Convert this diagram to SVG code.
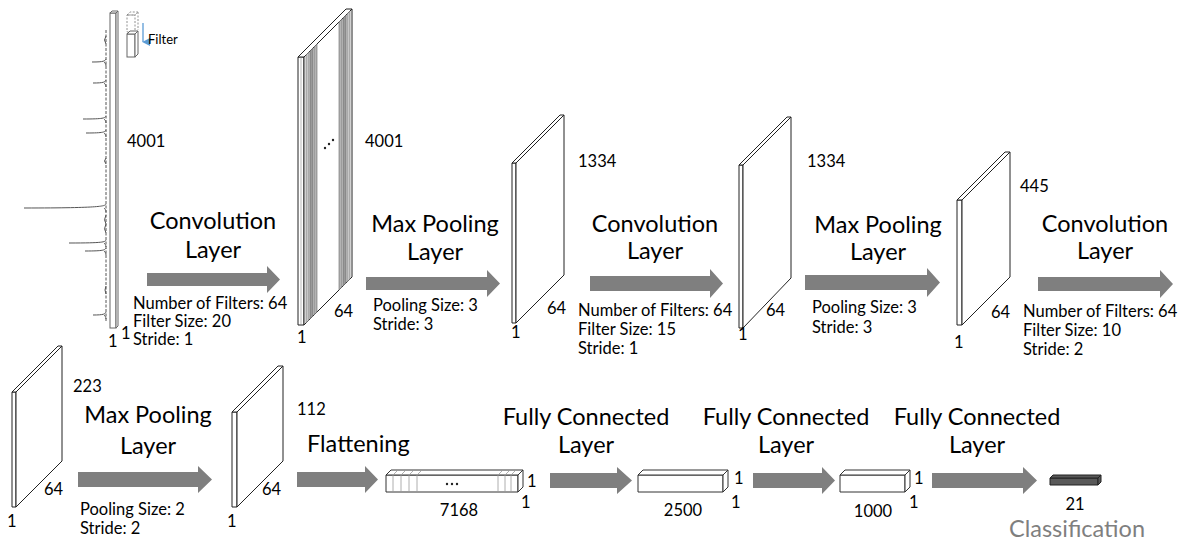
<svg xmlns="http://www.w3.org/2000/svg" width="1189" height="545" viewBox="0 0 1189 545">
  <style>
    text { font-family: Lato, "Liberation Sans", sans-serif; fill: #000; }
    .h { font-size: 23.5px; text-anchor: middle; }
    .p { font-size: 16.5px; }
    .d { font-size: 16.5px; }
    .dm { font-size: 16.5px; text-anchor: middle; }
    .cls { font-size: 23.5px; text-anchor: middle; fill: #7f7f7f; }
    .flow { fill: #7f7f7f; stroke: none; }
    .slab { fill: #fff; stroke: #222; stroke-width: 1; stroke-linejoin: round; }
    .box { fill: #fff; stroke: #333; stroke-width: 1; stroke-linejoin: round; }
    .dark { fill: #595959; stroke: #222; stroke-width: 1; stroke-linejoin: round; }
    .strip { stroke: #666; stroke-width: 0.6; }
    .tick { stroke: #999; stroke-width: 0.8; }
    .spec { fill: none; stroke: #555; stroke-width: 1; }
    .bar { fill: #fff; stroke: #666; stroke-width: 1; }
  </style>
  <defs>
    <marker id="blueHead" viewBox="0 0 10 10" refX="5" refY="9" markerWidth="8" markerHeight="8" markerUnits="userSpaceOnUse" orient="auto-start-reverse">
      <path d="M0,0 L10,0 L5,10 Z" fill="#5b9bd5"/>
    </marker>
  </defs>

  <!-- input spectrum with its 1 x 4001 column -->
  <g id="input">
    <path class="spec" stroke="#888" stroke-dasharray="3 1.5" d="M106,30 L106,322"/>
    <path class="spec" d="M106,36 q-3,4 0,8 M106,158 q-3,3 0,6 M106,215 q-3,5 0,9 q-3,5 0,9 M106,286 q-2,4 0,8"/>
    <path class="spec" d="M106,59 C105,61 104,62 92,62 M104,62 C105,63 106,64 106,66"/>
    <path class="spec" d="M106,80 C105,82 104,83 93,83 M104,83 C105,84 106,85 106,87"/>
    <path class="spec" d="M106,116 C105,118 104,119 83,119 M104,119 C105,120 106,121 106,123"/>
    <path class="spec" d="M106,130 C105,132 104,133 86,133 M104,133 C105,134 106,135 106,137"/>
    <path class="spec" d="M106,204 C105,206 104,208 24,208 M104,208 C105,209 106,210 106,212"/>
    <path class="spec" d="M106,240 C105,242 104,243 69,243 M104,243 C105,244 106,245 106,247"/>
    <path class="spec" d="M106,248 C105,250 104,251 85,251 M104,251 C105,252 106,253 106,255"/>
    <path class="spec" d="M106,312 C105,314 104,315 93,315 M104,315 C105,316 106,317 106,319"/>
    <rect class="bar" x="110" y="13" width="6" height="315"/>
    <polygon class="bar" points="110,13 112,11 118,11 116,13"/>
    <polygon class="bar" points="116,13 118,11 118,326 116,328"/>
    <text class="d" x="127" y="147">4001</text>
    <text class="d" x="108" y="347">1</text>
    <text class="d" x="121" y="339">1</text>
  </g>

  <!-- sliding filter -->
  <g id="filter">
    <rect x="127" y="15" width="8" height="17" fill="none" stroke="#777" stroke-width="0.8" stroke-dasharray="2 1.5"/>
    <polygon points="127,15 130,12 138,12 135,15" fill="none" stroke="#777" stroke-width="0.8" stroke-dasharray="2 1.5"/>
    <line x1="138" y1="12" x2="138" y2="30" stroke="#777" stroke-width="0.8" stroke-dasharray="2 1.5"/>
    <rect class="bar" x="127" y="34" width="8" height="23"/>
    <polygon class="bar" points="127,34 130,31 138,31 135,34"/>
    <polygon class="bar" points="135,34 138,31 138,54 135,57"/>
    <line x1="143" y1="23" x2="143" y2="42" stroke="#5b9bd5" stroke-width="1.3" marker-end="url(#blueHead)"/>
    <text x="148" y="44" font-size="13">Filter</text>
  </g>

  <!-- 64 stacked feature maps, 4001 long -->
  <g id="conv1-maps">
    <rect class="slab" x="298" y="57" width="6" height="268"/>
    <polygon class="slab" points="298,57 346,9 352,9 304,57"/>
    <polygon class="slab" points="304,57 352,9 352,277 304,325"/>
    <polygon class="strip" fill="#c8c8c8" points="306,55 309,52 309,320 306,323"/>
    <polygon class="strip" fill="#9a9a9a" points="310,51 313,48 313,316 310,319"/>
    <polygon class="strip" fill="#b4b4b4" points="314,47 317,44 317,312 314,315"/>
    <polygon class="strip" fill="#b4b4b4" points="339,22 342,19 342,287 339,290"/>
    <polygon class="strip" fill="#9a9a9a" points="343,18 346,15 346,283 343,286"/>
    <polygon class="strip" fill="#c8c8c8" points="347,14 350,11 350,279 347,282"/>
    <line x1="301" y1="57" x2="301" y2="325" stroke="#888" stroke-width="0.6"/>
    <circle cx="325" cy="148" r="1.2" fill="#222"/>
    <circle cx="329" cy="144" r="1.2" fill="#222"/>
    <circle cx="333" cy="140" r="1.2" fill="#222"/>
    <text class="d" x="365" y="147">4001</text>
    <text class="d" x="334" y="317">64</text>
    <text class="d" x="297" y="343">1</text>
  </g>

  <g id="pool1-maps">
    <rect class="slab" x="512" y="163" width="4" height="160"/>
    <polygon class="slab" points="512,163 560,115 564,115 516,163"/>
    <polygon class="slab" points="516,163 564,115 564,275 516,323"/>
    <text class="d" x="578" y="167">1334</text>
    <text class="d" x="547" y="314">64</text>
    <text class="d" x="511" y="338">1</text>
  </g>

  <g id="conv2-maps">
    <rect class="slab" x="739" y="165" width="4" height="163"/>
    <polygon class="slab" points="739,165 787,117 791,117 743,165"/>
    <polygon class="slab" points="743,165 791,117 791,278 743,328"/>
    <text class="d" x="766" y="316">64</text>
    <text class="d" x="807" y="167">1334</text>
    <text class="d" x="738" y="340">1</text>
  </g>

  <g id="pool2-maps">
    <rect class="slab" x="957" y="200" width="5" height="125"/>
    <polygon class="slab" points="957,200 1005,152 1010,152 962,200"/>
    <polygon class="slab" points="962,200 1010,152 1010,277 962,325"/>
    <text class="d" x="1020" y="192">445</text>
    <text class="d" x="991" y="318">64</text>
    <text class="d" x="954" y="348">1</text>
  </g>

  <g id="conv3-maps">
    <rect class="slab" x="12" y="392" width="4" height="115"/>
    <polygon class="slab" points="12,392 58,346 62,346 16,392"/>
    <polygon class="slab" points="16,392 62,346 62,461 16,507"/>
    <text class="d" x="73" y="392">223</text>
    <text class="d" x="44" y="495">64</text>
    <text class="d" x="7" y="527">1</text>
  </g>

  <g id="pool3-maps">
    <rect class="slab" x="232" y="412" width="5" height="95"/>
    <polygon class="slab" points="232,412 278,366 283,366 237,412"/>
    <polygon class="slab" points="237,412 283,366 283,461 237,507"/>
    <text class="d" x="297" y="415">112</text>
    <text class="d" x="262" y="495">64</text>
    <text class="d" x="227" y="527">1</text>
  </g>

  <!-- flattened vector -->
  <g id="flat-vector">
    <rect class="box" x="386" y="475" width="132" height="17"/>
    <polygon class="box" points="386,475 391,470 523,470 518,475"/>
    <polygon class="box" points="518,475 523,470 523,487 518,492"/>
    <g class="tick">
      <line x1="393" y1="475" x2="393" y2="492"/><line x1="393" y1="475" x2="398" y2="470"/>
      <line x1="401" y1="475" x2="401" y2="492"/><line x1="401" y1="475" x2="406" y2="470"/>
      <line x1="409" y1="475" x2="409" y2="492"/><line x1="409" y1="475" x2="414" y2="470"/>
      <line x1="417" y1="475" x2="417" y2="492"/><line x1="417" y1="475" x2="422" y2="470"/>
      <line x1="498" y1="475" x2="498" y2="492"/><line x1="498" y1="475" x2="503" y2="470"/>
      <line x1="505" y1="475" x2="505" y2="492"/><line x1="505" y1="475" x2="510" y2="470"/>
      <line x1="511" y1="475" x2="511" y2="492"/><line x1="511" y1="475" x2="516" y2="470"/>
    </g>
    <circle cx="447" cy="484" r="1.2" fill="#222"/>
    <circle cx="452" cy="484" r="1.2" fill="#222"/>
    <circle cx="457" cy="484" r="1.2" fill="#222"/>
    <text class="d" x="527" y="487">1</text>
    <text class="d" x="521" y="508">1</text>
    <text class="dm" x="459" y="516">7168</text>
  </g>

  <g id="fc1-vector">
    <rect class="box" x="638" y="475" width="85" height="17"/>
    <polygon class="box" points="638,475 643,470 728,470 723,475"/>
    <polygon class="box" points="723,475 728,470 728,487 723,492"/>
    <text class="d" x="734" y="484">1</text>
    <text class="d" x="731" y="508">1</text>
    <text class="dm" x="683" y="516">2500</text>
  </g>

  <g id="fc2-vector">
    <rect class="box" x="840" y="475" width="65" height="17"/>
    <polygon class="box" points="840,475 845,470 910,470 905,475"/>
    <polygon class="box" points="905,475 910,470 910,487 905,492"/>
    <text class="d" x="914" y="484">1</text>
    <text class="d" x="909" y="508">1</text>
    <text class="dm" x="873" y="517">1000</text>
  </g>

  <g id="output">
    <rect class="dark" x="1050" y="478" width="48" height="7"/>
    <polygon class="dark" points="1050,478 1053,475 1101,475 1098,478"/>
    <polygon class="dark" points="1098,478 1101,475 1101,482 1098,485"/>
    <text class="dm" x="1075" y="510">21</text>
    <text class="cls" x="1077" y="537">Classification</text>
  </g>

  <!-- layer arrows -->
  <g id="connectors">
    <path class="flow" d="M147,273 H267 V266 L280,279.5 L267,293 V286 H147 Z"/>
    <path class="flow" d="M366,277 H487 V270 L500,283.5 L487,297 V290 H366 Z"/>
    <path class="flow" d="M590,276 H710 V269 L723,283.5 L710,298 V291 H590 Z"/>
    <path class="flow" d="M805,275 H927 V268 L940,282.5 L927,297 V290 H805 Z"/>
    <path class="flow" d="M1038,277 H1160 V270 L1173,284 L1160,298 V291 H1038 Z"/>
    <path class="flow" d="M78,472 H198 V466 L212,479.5 L198,493 V487 H78 Z"/>
    <path class="flow" d="M297,472 H365 V466 L378,479.5 L365,493 V487 H297 Z"/>
    <path class="flow" d="M550,473 H617 V467 L632,480.5 L617,494 V488 H550 Z"/>
    <path class="flow" d="M753,473 H822 V467 L835,480.5 L822,494 V488 H753 Z"/>
    <path class="flow" d="M932,473 H1023 V467 L1037,480.5 L1023,494 V488 H932 Z"/>
  </g>

  <!-- layer captions -->
  <g id="captions">
    <text class="h" x="213" y="229">Convolution</text>
    <text class="h" x="213" y="258">Layer</text>
    <text class="p" x="133" y="309">Number of Filters: 64</text>
    <text class="p" x="133" y="327">Filter Size: 20</text>
    <text class="p" x="133" y="345">Stride: 1</text>

    <text class="h" x="435" y="232">Max Pooling</text>
    <text class="h" x="435" y="260">Layer</text>
    <text class="p" x="373" y="311">Pooling Size: 3</text>
    <text class="p" x="373" y="330">Stride: 3</text>

    <text class="h" x="655" y="232">Convolution</text>
    <text class="h" x="655" y="259">Layer</text>
    <text class="p" x="578" y="316">Number of Filters: 64</text>
    <text class="p" x="578" y="335">Filter Size: 15</text>
    <text class="p" x="578" y="354">Stride: 1</text>

    <text class="h" x="878" y="233">Max Pooling</text>
    <text class="h" x="878" y="260">Layer</text>
    <text class="p" x="812" y="313">Pooling Size: 3</text>
    <text class="p" x="812" y="333">Stride: 3</text>

    <text class="h" x="1105" y="232">Convolution</text>
    <text class="h" x="1105" y="259">Layer</text>
    <text class="p" x="1023" y="317">Number of Filters: 64</text>
    <text class="p" x="1023" y="336">Filter Size: 10</text>
    <text class="p" x="1023" y="355">Stride: 2</text>

    <text class="h" x="148" y="423">Max Pooling</text>
    <text class="h" x="148" y="454">Layer</text>
    <text class="p" x="80" y="515">Pooling Size: 2</text>
    <text class="p" x="80" y="534">Stride: 2</text>

    <text class="h" x="307" y="452" style="text-anchor:start">Flattening</text>

    <text class="h" x="586" y="425">Fully Connected</text>
    <text class="h" x="586" y="453">Layer</text>
    <text class="h" x="786" y="425">Fully Connected</text>
    <text class="h" x="786" y="453">Layer</text>
    <text class="h" x="977" y="425">Fully Connected</text>
    <text class="h" x="977" y="453">Layer</text>
  </g>
</svg>
